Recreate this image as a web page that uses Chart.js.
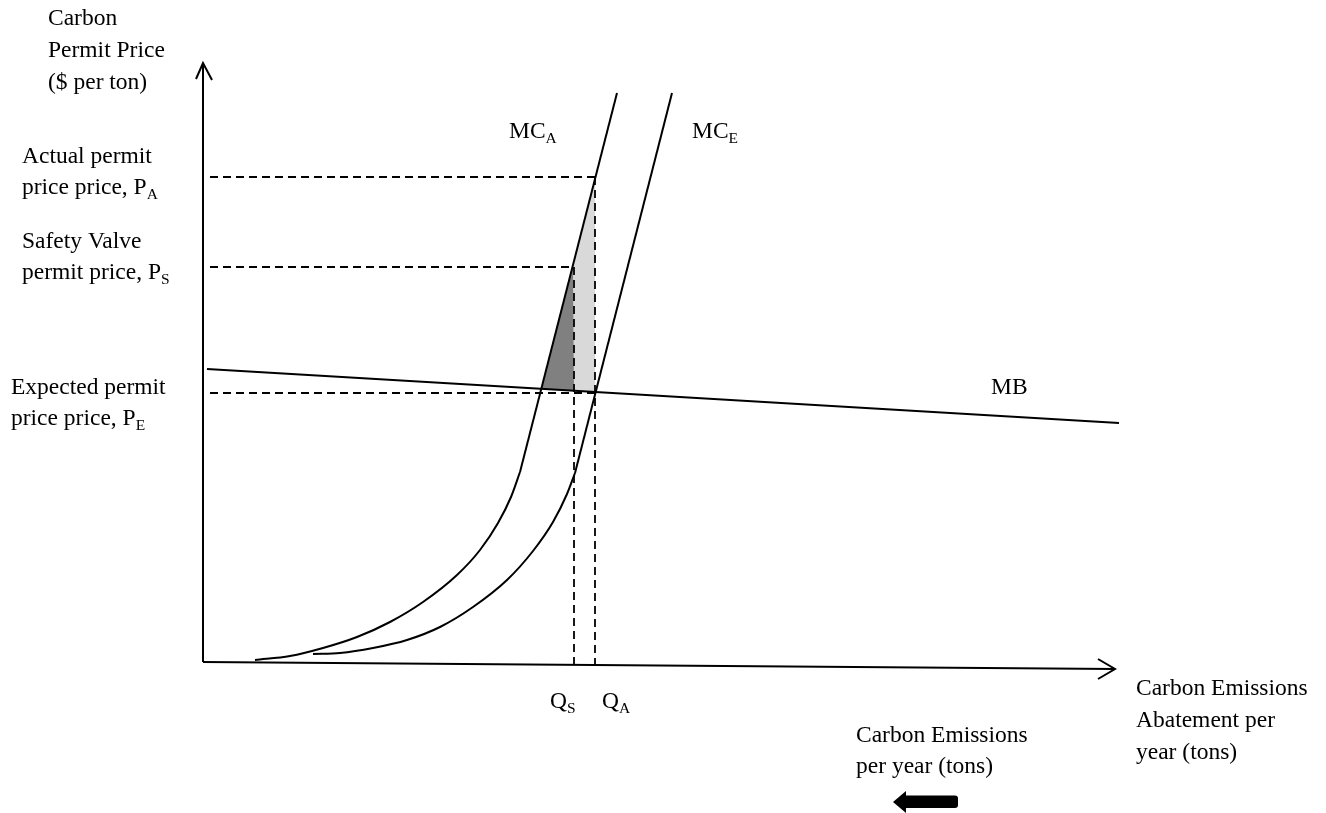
<!DOCTYPE html>
<html>
<head>
<meta charset="utf-8">
<script src="https://cdn.jsdelivr.net/npm/chart.js@4.4.1/dist/chart.umd.min.js"></script>
<style>
  html, body { margin: 0; padding: 0; background: #ffffff; }
  canvas { display: block; }
</style>
</head>
<body>
<canvas id="c" width="1326" height="813"></canvas>
<script>
// ---- Data (abatement units on x, price units on y) ----
const yAxisLine   = [{x:0, y:0}, {x:0, y:599}];
const yAxisArrow  = [{x:-7, y:583}, {x:0, y:599}, {x:9, y:582}];
const xAxisLine   = [{x:0, y:0}, {x:912, y:-7}];
const xAxisArrow  = [{x:895, y:3}, {x:912, y:-7}, {x:895, y:-17}];

const mbCurve     = [{x:4, y:293}, {x:916, y:239}];

// MC_A: curved lower section and straight upper section
const mcActualX = [52, 87, 120, 154, 187, 220, 254, 277, 295, 308, 317];
const mcActualY = [2, 6, 14, 25, 40, 60, 87, 112, 139, 165, 190];
const mcActualLine  = [{x:317, y:190}, {x:414, y:569}];
// MC_E: curved lower section and straight upper section
const mcExpectedX = [110, 137, 170, 204, 237, 270, 304, 330, 350, 364, 372];
const mcExpectedY = [8, 9, 14, 22, 35, 55, 82, 111, 140, 168, 189];
const mcExpectedLine  = [{x:372, y:189}, {x:469, y:569}];

// price levels and quantities
const priceActual   = 485;   // P_A
const priceSafety   = 395;   // P_S
const priceExpected = 269;   // P_E
const qtySafety     = 371;   // Q_S
const qtyActual     = 392;   // Q_A

const dashPA_h = [{x:7, y:priceActual}, {x:394, y:priceActual}];
const dashPA_v = [{x:qtyActual, y:priceActual}, {x:qtyActual, y:-3}];
const dashPS_h = [{x:7, y:priceSafety}, {x:qtySafety, y:priceSafety}];
const dashPS_v = [{x:qtySafety, y:priceSafety}, {x:qtySafety, y:-2}];
const dashPE_h = [{x:7, y:priceExpected}, {x:qtyActual, y:priceExpected}];

const shadeDark  = [{x:370, y:398}, {x:qtySafety, y:271}, {x:338, y:273}, {x:370, y:398}];
const shadeLight = [{x:393, y:485}, {x:370, y:398}, {x:qtySafety, y:271}, {x:qtyActual, y:270}, {x:qtyActual, y:485}, {x:393, y:485}];

// ---- Text ----
const yTitle   = ['Carbon', 'Permit Price', '($ per ton)'];
const xTitle   = ['Carbon Emissions', 'Abatement per', 'year (tons)'];
const emTitle  = ['Carbon Emissions', 'per year (tons)'];
const paLabel  = [['Actual permit'], ['price price, P', 'A']];
const psLabel  = [['Safety Valve'], ['permit price, P', 'S']];
const peLabel  = [['Expected permit'], ['price price, P', 'E']];
const mcaLabel = ['MC', 'A'];
const mceLabel = ['MC', 'E'];
const mbLabel  = 'MB';
const qsLabel  = ['Q', 'S'];
const qaLabel  = ['Q', 'A'];

// ---- Chart ----
const zip = (xs, ys) => xs.map((x, i) => ({x, y: ys[i]}));
const solid = (data, extra) => Object.assign({
  data, showLine: true, borderColor: '#000', borderWidth: 2, pointRadius: 0,
  fill: false, order: 1, tension: 0
}, extra || {});
const dashed = (data) => solid(data, {borderDash: [8, 5], borderWidth: 1.8, order: 2});
const shade = (data, color) => ({
  data, showLine: true, borderColor: 'rgba(0,0,0,0)', borderWidth: 0, pointRadius: 0,
  backgroundColor: color, fill: 'shape', order: 3, tension: 0
});

const SERIF = '"Liberation Serif", "Times New Roman", serif';
const MAIN = 23.5, SUB = 15.5;

function richText(ctx, parts, x, y) {
  ctx.font = MAIN + 'px ' + SERIF;
  ctx.fillText(parts[0], x, y);
  let w = ctx.measureText(parts[0]).width;
  if (parts[1]) {
    ctx.font = SUB + 'px ' + SERIF;
    ctx.fillText(parts[1], x + w, y + 5);
  }
}

const annotations = {
  id: 'annotations',
  afterDraw(chart) {
    const ctx = chart.ctx;
    ctx.save();
    ctx.fillStyle = '#000';
    ctx.textBaseline = 'alphabetic';
    ctx.textAlign = 'left';
    const lh = 32;
    yTitle.forEach((t, i) => richText(ctx, [t], 48, 25 + i * lh));
    paLabel.forEach((p, i) => richText(ctx, p, 22, 163 + i * 31));
    psLabel.forEach((p, i) => richText(ctx, p, 22, 248 + i * 31));
    peLabel.forEach((p, i) => richText(ctx, p, 11, 394 + i * 31));
    richText(ctx, mcaLabel, 509, 138);
    richText(ctx, mceLabel, 692, 138);
    richText(ctx, [mbLabel], 991, 394);
    richText(ctx, qsLabel, 550, 708);
    richText(ctx, qaLabel, 602, 708);
    xTitle.forEach((t, i) => richText(ctx, [t], 1136, 695 + i * lh));
    emTitle.forEach((t, i) => richText(ctx, [t], 856, 742 + i * 31));
    // bold arrow pointing left (direction of fewer emissions)
    ctx.beginPath();
    ctx.moveTo(893, 802);
    ctx.lineTo(906, 791);
    ctx.lineTo(906, 795.5);
    ctx.lineTo(955, 795.5);
    ctx.quadraticCurveTo(958, 795.5, 958, 798.5);
    ctx.lineTo(958, 805);
    ctx.quadraticCurveTo(958, 808, 955, 808);
    ctx.lineTo(906, 808);
    ctx.lineTo(906, 813);
    ctx.closePath();
    ctx.fill();
    ctx.restore();
  }
};

new Chart(document.getElementById('c'), {
  type: 'scatter',
  data: {
    datasets: [
      solid(yAxisLine),
      solid(yAxisArrow),
      solid(xAxisLine),
      solid(xAxisArrow),
      solid(mbCurve),
      solid(zip(mcActualX, mcActualY), {cubicInterpolationMode: 'monotone'}),
      solid(mcActualLine),
      solid(zip(mcExpectedX, mcExpectedY), {cubicInterpolationMode: 'monotone'}),
      solid(mcExpectedLine),
      dashed(dashPA_h), dashed(dashPA_v),
      dashed(dashPS_h), dashed(dashPS_v),
      dashed(dashPE_h),
      shade(shadeDark, '#808080'),
      shade(shadeLight, '#d9d9d9')
    ]
  },
  options: {
    responsive: false,
    animation: false,
    events: [],
    layout: { padding: 0 },
    plugins: { legend: { display: false }, tooltip: { enabled: false } },
    scales: {
      x: { type: 'linear', min: -203, max: 1123, display: false },
      y: { type: 'linear', min: -151, max: 662, display: false }
    }
  },
  plugins: [annotations]
});
</script>
</body>
</html>
